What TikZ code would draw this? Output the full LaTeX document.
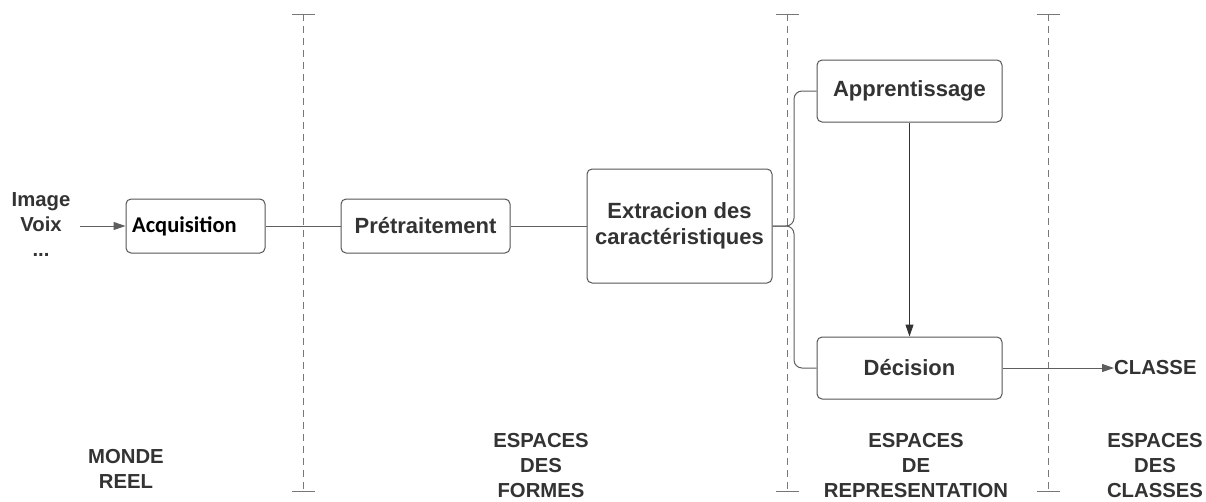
\documentclass[tikz,border=0pt]{standalone}
\usepackage{fontspec}
\setmainfont{Liberation Sans}
\newfontfamily\carlito{Carlito}
\usetikzlibrary{arrows.meta}
\definecolor{ink}{HTML}{333333}
\definecolor{edge}{HTML}{555555}
\definecolor{wire}{HTML}{5E5E5E}
\definecolor{sep}{HTML}{777777}
\tikzset{
  stage/.style={draw=edge, line width=1pt, rounded corners=5pt, fill=white,
    text=ink, font=\bfseries\fontsize{22}{26}\selectfont, align=center, inner sep=0pt},
  wireline/.style={draw=wire, line width=1pt},
  arrowline/.style={wireline, -{Triangle[length=12pt,width=8pt]}},
  label/.style={text=ink, font=\bfseries\fontsize{20.3}{25}\selectfont, align=center, inner sep=0pt},
  separator/.style={draw=sep, line width=0.8pt, dash pattern=on 7pt off 5pt},
  sepcap/.style={draw=sep, line width=0.8pt}
}
\begin{document}
\begin{tikzpicture}[x=1pt,y=-1pt]
\useasboundingbox (0,0) rectangle (1206,501);

% vertical separators between the spaces
\foreach \sx/\nm in {303/a,787/b,1048/c}{
  \coordinate (top\nm) at (\sx,14);
  \coordinate (bot\nm) at (\sx,491);
  \draw[sepcap] ([xshift=-11.5pt]top\nm) -- ([xshift=11.5pt]top\nm);
  \draw[sepcap] ([xshift=-11.5pt]bot\nm) -- ([xshift=11.5pt]bot\nm);
  \draw[separator] (top\nm) -- (bot\nm);
}

% processing stages
\node[stage, minimum width=139pt, minimum height=54pt] (acq) at (195.5,226) {};
\node[anchor=west, inner sep=0pt, font=\carlito\bfseries\fontsize{22.5}{26}\selectfont, text=black]
  (acqtxt) at ([xshift=6.5pt]acq.west) {Acquisition};
\node[stage, minimum width=169pt, minimum height=54pt] (pre) at (425.5,226) {Prétraitement};
\node[stage, minimum width=185pt, minimum height=114pt] (ext) at (679.5,226)
  {Extracion des\\caractéristiques};
\node[stage, minimum width=185pt, minimum height=62pt] (app) at (909.5,91) {Apprentissage};
\node[stage, minimum width=185pt, minimum height=62pt] (dec) at (909.5,368) {Décision};

% input and output labels
\node[label] (inp) at (41,225) {Image\\Voix\\...};
\node[label, anchor=west] (cls) at (1114,368) {CLASSE};
\coordinate (inpend) at (80,226);
\coordinate (junc) at (794,226);

% connectors
\draw[arrowline] (inpend) -- (acq.west);
\draw[wireline] (acq.east) -- (pre.west);
\draw[wireline] (pre.east) -- (ext.west);
\draw[wireline, rounded corners=8pt] (ext.east) -- (junc) |- (app.west);
\draw[wireline, rounded corners=8pt] (ext.east) -- (junc) |- (dec.west);
\draw[arrowline, draw=ink] (app.south) -- (dec.north);
\draw[arrowline] (dec.east) -- (cls.west);

% names of the spaces
\node[label] (monde) at (126,469) {MONDE\\REEL};
\node[label] (formes) at (541,466) {ESPACES\\DES\\FORMES};
\node[label] (repr) at (916,466) {ESPACES\\DE\\REPRESENTATION};
\node[label] (classes) at (1155,466) {ESPACES\\DES\\CLASSES};
\end{tikzpicture}
\end{document}
